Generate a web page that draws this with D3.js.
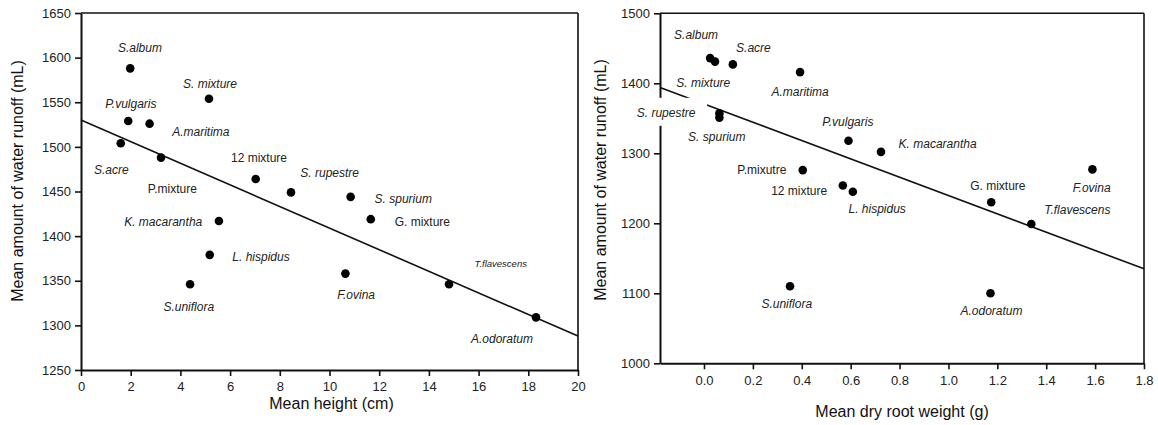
<!DOCTYPE html>
<html>
<head>
<meta charset="utf-8">
<script src="https://cdn.jsdelivr.net/npm/d3@7/dist/d3.min.js"></script>
<style>
  html, body { margin: 0; padding: 0; background: #fff; }
  svg { display: block; font-family: "Liberation Sans", Arial, Helvetica, sans-serif; }
  .tick text { font-size: 13px; fill: #222; }
  .lbl { font-size: 12px; fill: #222; }
  .title { font-size: 16px; fill: #111; }
</style>
</head>
<body>
<svg id="chart" width="1158" height="425"></svg>
<script>
// ---------- Data: left panel (mean height vs runoff) ----------
const leftNames  = ["S.album","S. mixture","P.vulgaris","A.maritima","S.acre","P.mixture","12 mixture","S. rupestre","S. spurium","G. mixture","K. macarantha","L. hispidus","S.uniflora","F.ovina","T.flavescens","A.odoratum"];
const leftHeight = [1.98, 5.15, 1.90, 2.76, 1.60, 3.22, 7.03, 8.45, 10.85, 11.66, 5.55, 5.18, 4.39, 10.64, 14.81, 18.31];
const leftRunoff = [1588, 1554, 1529, 1526, 1504, 1488, 1464, 1449, 1444, 1419, 1417, 1379, 1346, 1358, 1346, 1309];
const leftFit    = [[0, 1530], [20, 1288]];
const leftXTicks = [0, 2, 4, 6, 8, 10, 12, 14, 16, 18, 20];
const leftYTicks = [1250, 1300, 1350, 1400, 1450, 1500, 1550, 1600, 1650];

// ---------- Data: right panel (mean dry root weight vs runoff) ----------
const rightNames  = ["S.album","S. mixture","S.acre","A.maritima","S. rupestre","S. spurium","P.vulgaris","K. macarantha","P.mixutre","12 mixture","L. hispidus","G. mixture","T.flavescens","F.ovina","S.uniflora","A.odoratum"];
const rightRoot   = [0.025, 0.045, 0.118, 0.393, 0.063, 0.063, 0.591, 0.724, 0.404, 0.568, 0.609, 1.175, 1.339, 1.589, 0.352, 1.172];
const rightRunoff = [1436, 1431, 1427, 1416, 1357, 1351, 1318, 1302, 1276, 1254, 1245, 1230, 1199, 1277, 1110, 1100];
const rightFit    = [[-0.18, 1394], [1.8, 1135]];
const rightXTicks = [0.0, 0.2, 0.4, 0.6, 0.8, 1.0, 1.2, 1.4, 1.6, 1.8];
const rightYTicks = [1000, 1100, 1200, 1300, 1400, 1500];

const nonItalic = new Set(["P.mixture","12 mixture","G. mixture","P.mixutre"]);

// ---------- Layout (label offsets in px, relative to point) ----------
const leftLabelOffsets = [[9.7,-21],[1,-14.7],[2.7,-16.7],[51.3,8.3],[-9.4,26],[11.3,31],[3.3,-21],[38.7,-19.8],[52.6,2.3],[51.6,3],[-55.7,1.3],[51.3,1.7],[-1.3,22],[10.7,20.7],[51.7,-20.7],[-34,21.7]];
const rightLabelOffsets = [[-14,-23.7],[-11.7,21],[20.6,-17],[0,19.7],[-53.3,-0.6],[-2.6,19],[-0.6,-18.7],[56.6,-7.7],[-41,0],[-43.7,5],[24.3,17],[6.6,-17],[46,-14],[-0.7,18],[-3.3,17.3],[1,17.7]];

const svg = d3.select("#chart");

function panel(cfg) {
  const x = d3.scaleLinear().domain(cfg.xDomain).range([cfg.x0, cfg.x1]);
  const y = d3.scaleLinear().domain(cfg.yDomain).range([cfg.y1, cfg.y0]);
  const g = svg.append("g");

  // frame top & right
  g.append("line").attr("x1", cfg.x0).attr("x2", cfg.x1).attr("y1", cfg.y0).attr("y2", cfg.y0)
    .attr("stroke", "#111").attr("stroke-width", 1.6);
  g.append("line").attr("x1", cfg.x1).attr("x2", cfg.x1).attr("y1", cfg.y0).attr("y2", cfg.y1)
    .attr("stroke", "#111").attr("stroke-width", 1.6);

  const xa = g.append("g").attr("transform", `translate(0,${cfg.y1})`)
    .call(d3.axisBottom(x).tickValues(cfg.xTicks).tickFormat(cfg.xFmt).tickSize(6).tickSizeOuter(0).tickPadding(6));
  const ya = g.append("g").attr("transform", `translate(${cfg.x0},0)`)
    .call(d3.axisLeft(y).tickValues(cfg.yTicks).tickFormat(d3.format("d")).tickSize(6).tickSizeOuter(0).tickPadding(4));
  [xa, ya].forEach(a => {
    a.select(".domain").attr("stroke", "#111").attr("stroke-width", 2);
    a.selectAll(".tick line").attr("stroke", "#111").attr("stroke-width", 1.6);
    a.selectAll(".tick text").attr("font-family", null).attr("font-size", null);
  });
  xa.attr("font-size", null).attr("font-family", null);
  ya.attr("font-size", null).attr("font-family", null);

  // regression line
  g.append("line")
    .attr("x1", x(cfg.fit[0][0])).attr("y1", y(cfg.fit[0][1]))
    .attr("x2", x(cfg.fit[1][0])).attr("y2", y(cfg.fit[1][1]))
    .attr("stroke", "#111").attr("stroke-width", 1.6);

  const data = cfg.names.map((n, i) => ({ name: n, xv: cfg.xs[i], yv: cfg.ys[i], off: cfg.offsets[i] }));

  // labels
  const lab = g.append("g");
  data.forEach(d => {
    const px = x(d.xv) + d.off[0], py = y(d.yv) + d.off[1];
    const small = cfg.smallLabel === d.name;
    if (cfg.bgLabel === d.name) {
      lab.append("rect").attr("x", px - 33).attr("y", py - 15).attr("width", 74).attr("height", 28).attr("fill", "#fff");
    }
    lab.append("text").attr("class", "lbl")
      .attr("x", px).attr("y", py).attr("dy", "0.35em")
      .attr("text-anchor", "middle")
      .style("font-style", nonItalic.has(d.name) ? "normal" : "italic")
      .style("font-size", small ? "9.5px" : null)
      .text(d.name);
  });

  // points
  g.append("g").selectAll("circle").data(data).join("circle")
    .attr("cx", d => x(d.xv)).attr("cy", d => y(d.yv)).attr("r", 4.3).attr("fill", "#000");

  // titles
  g.append("text").attr("class", "title").attr("x", (cfg.x0 + cfg.x1) / 2 + cfg.xTitleDx).attr("y", cfg.xTitleY)
    .attr("text-anchor", "middle").text(cfg.xTitle);
  g.append("text").attr("class", "title")
    .attr("transform", `translate(${cfg.yTitleX},${cfg.yTitleY}) rotate(-90)`)
    .attr("text-anchor", "middle").text(cfg.yTitle);
}

panel({
  x0: 81, x1: 578, y0: 13, y1: 370,
  xDomain: [0, 20], yDomain: [1250, 1650],
  xTicks: leftXTicks, yTicks: leftYTicks, xFmt: d3.format("d"),
  fit: leftFit, names: leftNames, xs: leftHeight, ys: leftRunoff, offsets: leftLabelOffsets,
  smallLabel: "T.flavescens", bgLabel: null,
  xTitle: "Mean height (cm)", xTitleDx: 2, xTitleY: 409,
  yTitle: "Mean amount of water runoff (mL)", yTitleX: 23, yTitleY: 181
});

panel({
  x0: 660, x1: 1144, y0: 13.3, y1: 363.3,
  xDomain: [-0.18, 1.8], yDomain: [1000, 1500],
  xTicks: rightXTicks, yTicks: rightYTicks, xFmt: d3.format(".1f"),
  fit: rightFit, names: rightNames, xs: rightRoot, ys: rightRunoff, offsets: rightLabelOffsets,
  smallLabel: null, bgLabel: "S. rupestre",
  xTitle: "Mean dry root weight (g)", xTitleDx: 0, xTitleY: 417,
  yTitle: "Mean amount of water runoff (mL)", yTitleX: 606, yTitleY: 180
});
</script>
</body>
</html>
